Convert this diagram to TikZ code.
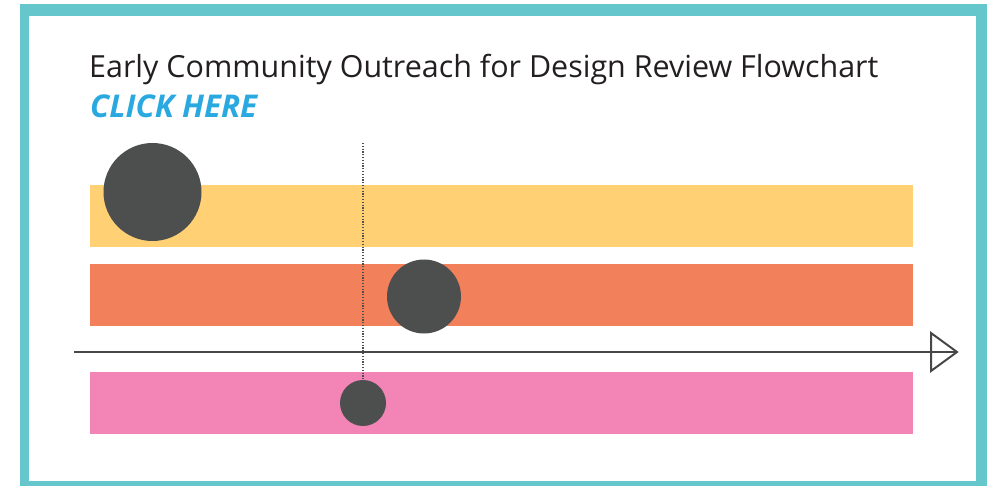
\documentclass[tikz,border=0pt]{standalone}
\usepackage{fontspec}
\setmainfont{Open Sans}
\definecolor{frameteal}{HTML}{65C7CC}
\definecolor{baryellow}{HTML}{FFD074}
\definecolor{barorange}{HTML}{F2805A}
\definecolor{barpink}{HTML}{F285B5}
\definecolor{dotgray}{HTML}{4D4F4E}
\definecolor{linkblue}{HTML}{29A9E0}
\definecolor{titleblack}{HTML}{231F20}
\usetikzlibrary{arrows.meta}
\tikzset{
  bar/.style={draw=none, inner sep=0pt, minimum width=823pt, minimum height=62pt, anchor=north west},
  blob/.style={circle, fill=dotgray, draw=none, inner sep=0pt},
  axisline/.style={draw=black!72, line width=2pt},
}
\begin{document}
\begin{tikzpicture}[x=1pt,y=-1pt]
\useasboundingbox (0,0) rectangle (998,486);
% frame
\fill[frameteal] (20,4) rectangle (987,490);
\fill[white] (29,16) rectangle (976,481);
% title
\node[anchor=base west, inner sep=0pt, text=titleblack] (title) at (89,78) {\resizebox{789pt}{!}{Early Community Outreach for Design Review Flowchart}};
\node[anchor=base west, inner sep=0pt, text=linkblue] (click) at (90,118) {\resizebox{167pt}{!}{\bfseries\itshape CLICK HERE}};
% bars
\node[bar, fill=baryellow] (b1) at (90,185) {};
\node[bar, fill=barorange] (b2) at (90,264) {};
\node[bar, fill=barpink] (b3) at (90,372) {};
% axis
\coordinate (axstart) at (74,352);
\coordinate (axtip) at (957,352);
\draw[axisline] (axstart) -- (axtip);
\draw[draw=black!72, line width=2pt, line join=miter] (931,333) -- (axtip) -- (931,371) -- cycle;
% circles
\node[blob, minimum size=98pt] (c1) at (152.5,192) {};
\node[blob, minimum size=74pt] (c2) at (424,296.5) {};
\node[blob, minimum size=46pt] (c3) at (363,403) {};
% dotted marker
\coordinate (dtop) at (363,143);
\draw[dotgray, line width=1.2pt, dash pattern=on 1.2pt off 1.6pt] (dtop) -- (c3.center);
\end{tikzpicture}
\end{document}
